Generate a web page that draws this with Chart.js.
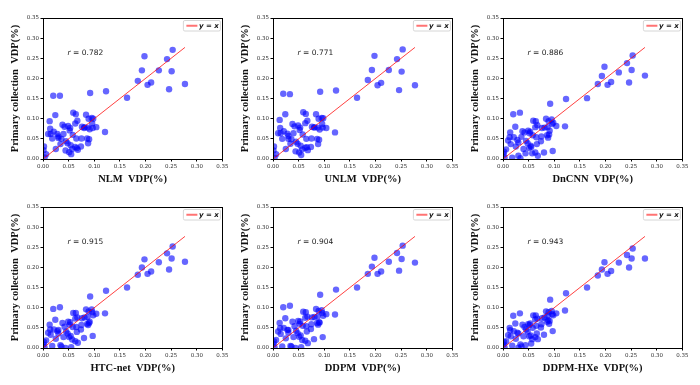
<!DOCTYPE html>
<html>
<head>
<meta charset="utf-8">
<script src="https://cdn.jsdelivr.net/npm/chart.js@4.4.0/dist/chart.umd.min.js"></script>
<style>
  body { margin: 0; background: #fff; }
  .panel { position: absolute; width: 230px; height: 190px; }
</style>
</head>
<body>
<div class="panel" style="left:0px;top:0px"><canvas id="c0" width="230" height="190"></canvas></div>
<div class="panel" style="left:230px;top:0px"><canvas id="c1" width="230" height="190"></canvas></div>
<div class="panel" style="left:460px;top:0px"><canvas id="c2" width="230" height="190"></canvas></div>
<div class="panel" style="left:0px;top:189px"><canvas id="c3" width="230" height="190"></canvas></div>
<div class="panel" style="left:230px;top:189px"><canvas id="c4" width="230" height="190"></canvas></div>
<div class="panel" style="left:460px;top:189px"><canvas id="c5" width="230" height="190"></canvas></div>
<script>
const methods = ['NLM', 'UNLM', 'DnCNN', 'HTC-net', 'DDPM', 'DDPM-HXe'];
const rValues = [0.782, 0.771, 0.886, 0.915, 0.904, 0.943];
const tickValues = [0, 0.05, 0.10, 0.15, 0.20, 0.25, 0.30, 0.35];

// method VDP (x), same cases in every panel
const methodVdp = [0.253,0.242,0.198,0.251,0.277,0.226,0.193,0.211,0.204,0.185,0.246,
  0.164,0.123,0.092,0.033,0.020,0.024,
  0.059,0.064,0.084,0.095,0.089,0.067,0.063,0.096,0.098,0.104,0.121,
  0.081,0.076,0.087,0.091,0.038,0.042,0.049,0.053,0.052,0.058,
  0.013,0.014,0.021,0.010,0.028,0.030,0.015,0.045,0.048,0.054,
  0.065,0.075,0.086,0.090,0.088,0.066,0.074,0.051,0.040,
  0.006,0.002,0.001,0.025,0.057,0.063,0.068,0.080,0.097,0.034,0.018,0.044,0.055,0.003,
  0.036,0.030];

// primary collection VDP (y), one array per panel
const primaryNlm = [0.271,0.248,0.255,0.218,0.186,0.220,0.220,0.190,0.184,0.194,0.173,
  0.152,0.168,0.164,0.157,0.157,0.109,
  0.115,0.111,0.110,0.102,0.100,0.095,0.088,0.088,0.100,0.079,0.067,
  0.079,0.080,0.078,0.074,0.085,0.080,0.082,0.077,0.071,0.060,
  0.094,0.075,0.068,0.062,0.062,0.056,0.062,0.044,0.039,0.034,
  0.051,0.051,0.051,0.049,0.039,0.027,0.031,0.017,0.062,
  0.012,0.031,0.022,0.025,0.025,0.030,0.023,0.077,0.077,0.037,0.051,0.021,0.012,0.004,
  0.050,0.052];
const primaryUnlm = [0.272,0.248,0.256,0.217,0.183,0.221,0.221,0.189,0.183,0.196,0.171,
  0.152,0.170,0.167,0.161,0.162,0.111,
  0.116,0.112,0.111,0.102,0.100,0.095,0.089,0.087,0.101,0.077,0.066,
  0.079,0.080,0.078,0.073,0.087,0.081,0.083,0.078,0.072,0.061,
  0.097,0.077,0.069,0.064,0.063,0.057,0.064,0.043,0.038,0.033,
  0.050,0.051,0.050,0.048,0.037,0.029,0.030,0.016,0.064,
  0.012,0.031,0.021,0.025,0.024,0.028,0.022,0.078,0.078,0.038,0.050,0.019,0.010,0.003,
  0.049,0.050];
const primaryDncnn = [0.257,0.238,0.229,0.221,0.207,0.215,0.206,0.191,0.184,0.186,0.190,
  0.151,0.149,0.137,0.115,0.111,0.080,
  0.095,0.094,0.100,0.098,0.094,0.084,0.079,0.087,0.090,0.082,0.081,
  0.078,0.077,0.079,0.070,0.069,0.066,0.070,0.068,0.064,0.059,
  0.054,0.066,0.054,0.046,0.047,0.041,0.037,0.045,0.039,0.033,
  0.054,0.056,0.059,0.061,0.053,0.037,0.044,0.027,0.025,
  0.024,0.018,0.012,0.031,0.014,0.016,0.008,0.016,0.020,0.002,0.003,0.014,0.030,0.004,
  0.055,0.008];
const primaryHtc = [0.252,0.235,0.220,0.222,0.214,0.213,0.200,0.190,0.184,0.182,0.195,
  0.150,0.142,0.128,0.101,0.097,0.070,
  0.087,0.087,0.096,0.096,0.091,0.076,0.073,0.089,0.081,0.085,0.086,
  0.076,0.074,0.077,0.065,0.062,0.053,0.065,0.064,0.058,0.052,
  0.058,0.046,0.046,0.038,0.042,0.036,0.033,0.041,0.036,0.030,
  0.052,0.057,0.060,0.062,0.057,0.040,0.046,0.027,0.027,
  0.019,0.015,0.009,0.023,0.021,0.017,0.013,0.025,0.030,0.007,0.005,0.000,0.002,0.002,
  0.004,0.045];
const primaryDdpm = [0.254,0.236,0.224,0.221,0.212,0.214,0.202,0.190,0.184,0.184,0.192,
  0.150,0.145,0.132,0.105,0.101,0.074,
  0.090,0.089,0.097,0.094,0.092,0.078,0.075,0.087,0.080,0.084,0.083,
  0.077,0.076,0.078,0.063,0.065,0.054,0.067,0.066,0.060,0.055,
  0.062,0.049,0.050,0.041,0.045,0.038,0.035,0.043,0.037,0.031,
  0.054,0.059,0.062,0.064,0.058,0.041,0.047,0.028,0.027,
  0.020,0.016,0.010,0.024,0.020,0.018,0.012,0.022,0.027,0.005,0.004,0.000,0.002,0.002,
  0.004,0.045];
const primaryHxe = [0.247,0.231,0.213,0.222,0.222,0.212,0.195,0.191,0.184,0.180,0.200,
  0.150,0.136,0.120,0.086,0.080,0.061,
  0.081,0.081,0.091,0.092,0.089,0.073,0.071,0.084,0.081,0.086,0.093,
  0.076,0.074,0.080,0.067,0.058,0.052,0.059,0.061,0.057,0.050,
  0.050,0.044,0.042,0.032,0.038,0.036,0.029,0.046,0.041,0.031,
  0.055,0.059,0.065,0.060,0.069,0.036,0.051,0.029,0.029,
  0.017,0.015,0.009,0.023,0.022,0.027,0.022,0.033,0.042,0.009,0.006,0.007,0.011,0.002,
  0.004,0.001];

const primarySets = [primaryNlm, primaryUnlm, primaryDncnn, primaryHtc, primaryDdpm, primaryHxe];

// box around the plot, legend box in the corner, r label
const panelDecor = {
  id: 'panelDecor',
  afterDraw(chart, args, opts) {
    const {ctx, chartArea: a, scales} = chart;
    ctx.save();
    ctx.strokeStyle = '#000';
    ctx.lineWidth = 1;
    ctx.strokeRect(Math.round(a.left) + 0.5, Math.round(a.top) + 0.5,
      Math.round(a.right - a.left), Math.round(a.bottom - a.top));

    // legend
    const bw = 37, bh = 10.5;
    const bx = a.right - 2 - bw, by = a.top + 2.5;
    ctx.fillStyle = 'rgba(255,255,255,0.85)';
    ctx.strokeStyle = '#cccccc';
    ctx.lineWidth = 0.8;
    ctx.beginPath();
    ctx.roundRect(bx, by, bw, bh, 1.5);
    ctx.fill();
    ctx.stroke();
    ctx.strokeStyle = 'rgba(255,80,80,0.8)';
    ctx.lineWidth = 2;
    ctx.beginPath();
    ctx.moveTo(bx + 3, by + bh / 2);
    ctx.lineTo(bx + 14, by + bh / 2);
    ctx.stroke();
    ctx.fillStyle = '#111';
    ctx.textBaseline = 'middle';
    ctx.font = 'italic bold 7px "DejaVu Sans"';
    ctx.fillText(chart.data.datasets[0].label, bx + 15.5, by + bh / 2 + 0.3);

    // correlation
    const x = scales.x.getPixelForValue(0.048);
    const y = scales.y.getPixelForValue(0.263);
    ctx.fillStyle = '#222';
    ctx.font = 'italic 7.5px "DejaVu Sans"';
    ctx.fillText('r', x, y);
    const w = ctx.measureText('r').width;
    ctx.font = '7.5px "DejaVu Sans"';
    ctx.fillText(' = ' + opts.r.toFixed(3), x + w, y);
    ctx.restore();
  }
};

const lineEnd = Math.max(...methodVdp);

function makePanel(i) {
  const points = methodVdp.map((v, k) => ({x: v, y: primarySets[i][k]}));
  const axis = (title, isY) => ({
    type: 'linear',
    min: 0,
    max: 0.35,
    afterBuildTicks: s => { s.ticks = tickValues.map(v => ({value: v})); },
    afterFit: s => { if (isY) s.width = 43; else s.height = 31; },
    ticks: {
      color: '#333',
      font: {family: 'DejaVu Sans', size: 5.5},
      padding: 1.5,
      callback: v => v.toFixed(2)
    },
    grid: {drawOnChartArea: false, drawTicks: true, tickLength: 2.5, color: '#000'},
    border: {display: true, color: '#000', width: 1},
    title: {
      display: true,
      text: title,
      color: '#111',
      font: {family: 'Liberation Serif', size: 10.5, weight: 'bold'},
      padding: isY ? {top: 9, bottom: 0} : {top: 0, bottom: 4}
    }
  });
  new Chart(document.getElementById('c' + i), {
    type: 'scatter',
    data: {
      datasets: [{
        type: 'line',
        label: 'y = x',
        data: [{x: 0, y: 0}, {x: lineEnd, y: lineEnd}],
        borderColor: 'rgba(255,0,0,0.75)',
        borderWidth: 1,
        pointRadius: 0
      }, {
        label: methods[i],
        data: points,
        backgroundColor: 'rgba(0,0,255,0.6)',
        borderWidth: 0,
        pointRadius: 3.2
      }]
    },
    options: {
      responsive: false,
      animation: false,
      layout: {padding: {top: 18, right: 7, bottom: 0, left: 0}},
      scales: {
        x: axis(methods[i] + '  VDP(%)', false),
        y: axis('Primary collection  VDP(%)', true)
      },
      plugins: {
        tooltip: {enabled: false},
        legend: {display: false},
        panelDecor: {r: rValues[i]}
      }
    },
    plugins: [panelDecor]
  });
}

for (let i = 0; i < methods.length; i++) makePanel(i);
</script>
</body>
</html>
